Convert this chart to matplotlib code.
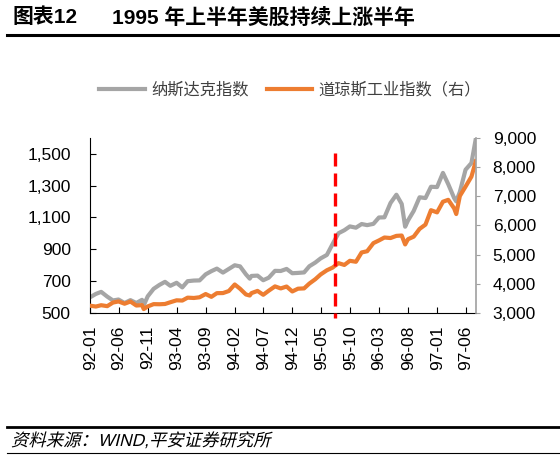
import numpy as np
import pandas as pd
import matplotlib
matplotlib.use("Agg")
import matplotlib.pyplot as plt
from matplotlib.lines import Line2D
from matplotlib.textpath import TextPath
from matplotlib.patches import PathPatch
from matplotlib.font_manager import FontProperties
from matplotlib.transforms import Affine2D

# data (approximate, irregular dates)
dates = ["1992-01-02", "1992-01-31", "1992-02-28", "1992-03-31", "1992-04-30", "1992-05-29",
         "1992-06-30", "1992-07-31", "1992-08-31", "1992-09-30", "1992-10-09", "1992-10-30",
         "1992-11-30", "1992-12-31", "1993-01-29", "1993-02-26", "1993-03-31", "1993-04-30",
         "1993-05-28", "1993-06-30", "1993-07-30", "1993-08-31", "1993-09-30", "1993-10-29",
         "1993-11-30", "1993-12-31", "1994-01-31", "1994-02-28", "1994-03-31", "1994-04-20",
         "1994-04-29", "1994-05-31", "1994-06-30", "1994-07-29", "1994-08-31", "1994-09-30",
         "1994-10-31", "1994-11-30", "1994-12-30", "1995-01-31", "1995-02-28", "1995-03-31",
         "1995-04-28", "1995-05-31", "1995-06-30", "1995-07-31", "1995-08-31", "1995-09-29",
         "1995-10-31", "1995-11-30", "1995-12-29", "1996-01-31", "1996-02-29", "1996-03-29",
         "1996-04-30", "1996-05-31", "1996-06-28", "1996-07-16", "1996-07-31", "1996-08-30",
         "1996-09-30", "1996-10-31", "1996-11-29", "1996-12-31", "1997-01-31", "1997-02-28",
         "1997-03-31", "1997-04-11", "1997-04-30", "1997-05-30", "1997-06-30", "1997-07-23"]
nasdaq = [600, 620, 633, 603, 579, 585, 563, 581, 563, 583, 548, 605,
          652, 677, 696, 671, 690, 661, 700, 704, 705, 743, 763, 779,
          754, 777, 800, 793, 743, 716, 733, 735, 706, 722, 765, 764,
          777, 750, 752, 755, 794, 817, 843, 865, 933, 1001, 1020, 1044,
          1036, 1059, 1052, 1060, 1100, 1101, 1191, 1243, 1185, 1042, 1081, 1141,
          1227, 1222, 1293, 1291, 1380, 1309, 1222, 1201, 1261, 1400, 1442, 1595]
dow = [3250, 3223, 3268, 3236, 3359, 3397, 3319, 3394, 3257, 3272, 3136, 3226,
       3305, 3301, 3310, 3370, 3436, 3428, 3527, 3516, 3540, 3651, 3555, 3681,
       3684, 3754, 3978, 3832, 3636, 3600, 3682, 3758, 3625, 3765, 3913, 3843,
       3908, 3739, 3834, 3844, 4011, 4158, 4321, 4465, 4556, 4709, 4647, 4789,
       4756, 5075, 5117, 5395, 5486, 5587, 5569, 5643, 5655, 5350, 5529, 5616,
       5882, 6029, 6522, 6448, 6813, 6878, 6584, 6391, 7009, 7331, 7673, 8200]
tick_labels = ["92-01", "92-06", "92-11", "93-04", "93-09", "94-02", "94-07", "94-12",
               "95-05", "95-10", "96-03", "96-08", "97-01", "97-06"]
marker_date = "1995-07-15"

x = pd.to_datetime(dates)
ticks = pd.to_datetime(["19" + t + "-01" for t in tick_labels])

plt.rcParams['font.family'] = ['Liberation Sans', 'Noto Sans CJK SC', 'DejaVu Sans']
cjk = ['Noto Sans CJK SC', 'DejaVu Sans']
mixed = ['Liberation Sans', 'Noto Sans CJK SC', 'DejaVu Sans']

fig = plt.figure(figsize=(5.6, 4.55), dpi=100)
ax = fig.add_axes([0.161, 0.312, 0.689, 0.385])
ax2 = ax.twinx()

gray = "#a5a5a5"
orange = "#ed7d31"
ax.plot(x, nasdaq, color=gray, lw=3, zorder=2)
ax2.plot(x, dow, color=orange, lw=3, zorder=2)
md = pd.to_datetime(marker_date)
ax2.plot([md, md], [8485, 2830], color="#ff0000", lw=2.4,
         linestyle=(0, (3.9, 2.1)), zorder=5, clip_on=False)

fmt = matplotlib.ticker.FuncFormatter(lambda v, p: f"{int(v):,}")
ax.set_ylim(500, 1600)
ax.set_yticks([500, 700, 900, 1100, 1300, 1500])
ax.yaxis.set_major_formatter(fmt)
ax2.set_ylim(3000, 9000)
ax2.set_yticks(range(3000, 9001, 1000))
ax2.yaxis.set_major_formatter(fmt)

ax.set_xlim(pd.Timestamp("1992-01-01"), pd.Timestamp("1997-07-24"))
ax.set_xticks(ticks)
ax.set_xticklabels(tick_labels, rotation=90)

for a in (ax, ax2):
    a.spines['top'].set_visible(False)
    a.tick_params(labelsize=12.5)
ax.spines['right'].set_visible(False)
ax2.spines['left'].set_visible(False)
ax2.spines['bottom'].set_visible(False)
ax2.spines['right'].set_color("#a0a0a0")
ax2.spines['right'].set_linewidth(1.2)
ax.tick_params(axis='y', direction='in', length=4, pad=14)
ax.tick_params(axis='x', direction='in', length=4, pad=9)
ax2.tick_params(axis='y', direction='out', length=3, color="#a0a0a0", pad=9)

handles = [Line2D([], [], color=gray, lw=3), Line2D([], [], color=orange, lw=3)]
fig.legend(handles, ["纳斯达克指数", "道琼斯工业指数（右）"], loc="center",
           bbox_to_anchor=(0.518, 0.802), ncol=2, frameon=False,
           prop={'family': cjk, 'size': 11.7}, handlelength=2.8, handletextpad=0.4,
           columnspacing=1.1, labelcolor="#404040")

# title
fig.text(12 / 560, 1 - 17.5 / 455, "图表12", family=mixed, fontsize=15,
         fontweight='bold', va='center')
fig.text(112 / 560, 1 - 17.5 / 455, "1995 年上半年美股持续上涨半年", family=mixed,
         fontsize=15, fontweight='bold', va='center')
fig.add_artist(Line2D([0.012, 1.0], [1 - 35 / 455, 1 - 35 / 455], color='black', lw=2.2))

# footer (italic, skewed)
fig.add_artist(Line2D([0.012, 1.0], [1 - 426.5 / 455, 1 - 426.5 / 455], color='black', lw=2))
fig.add_artist(Line2D([0.012, 1.0], [0.004, 0.004], color='black', lw=0.8))
src = TextPath((0, 0), "资料来源：WIND,平安证券研究所", size=12.5,
               prop=FontProperties(family=mixed))
tr = Affine2D().skew_deg(14, 0).scale(fig.dpi / 72).translate(11, 9)
fig.add_artist(PathPatch(src, transform=tr, facecolor='black', edgecolor='none'))

fig.savefig("out.png", dpi=100)
